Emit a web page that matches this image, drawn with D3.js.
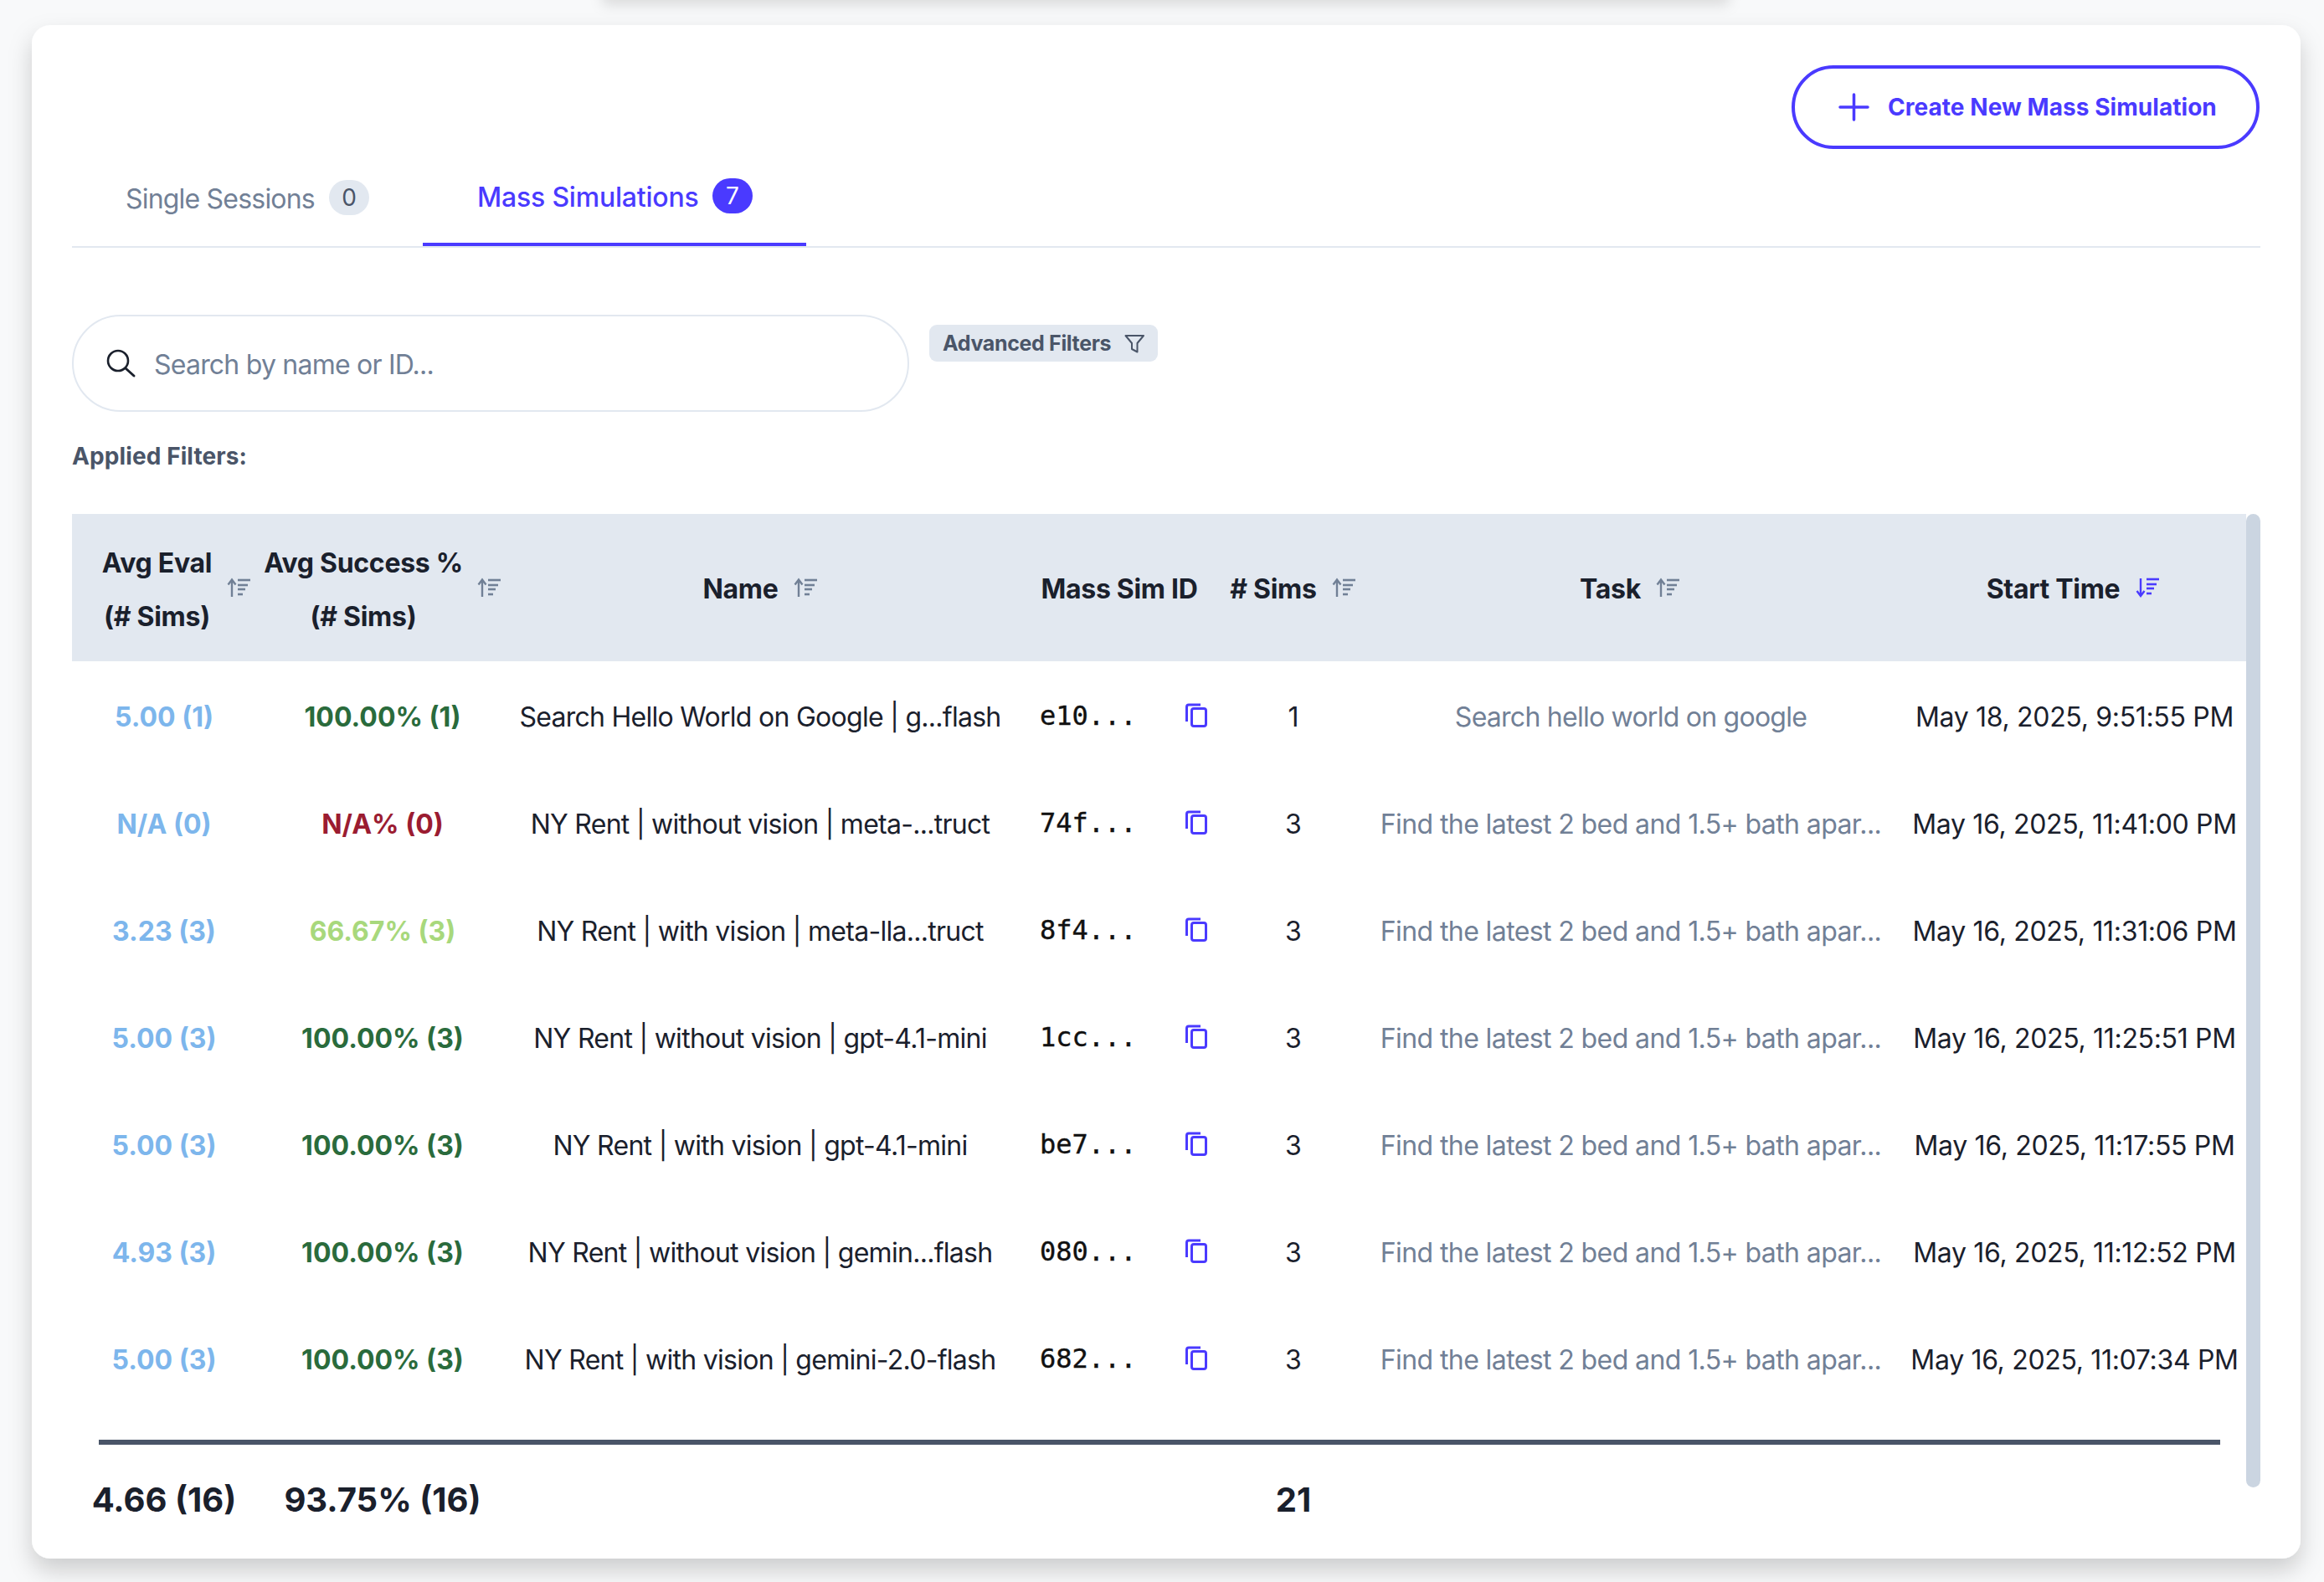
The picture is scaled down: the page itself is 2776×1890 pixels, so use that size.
<!DOCTYPE html>
<html><head><meta charset="utf-8">
<script src="https://cdn.jsdelivr.net/npm/d3@7/dist/d3.min.js"></script>
<style>html,body{margin:0;padding:0;background:#f8f9fa;overflow:hidden}svg{display:block}text{font-family:Inter,sans-serif}</style>
</head><body><div id="chart"></div>
<script>
const rowsIdx = [0,1,2,3,4,5,6];
const avgEval = [5.00,null,3.23,5.00,5.00,4.93,5.00];
const evalSims = [1,0,3,3,3,3,3];
const avgSuccess = [100,null,66.67,100,100,100,100];
const successSims = [1,0,3,3,3,3,3];
const names = ["Search Hello World on Google | g...flash","NY Rent | without vision | meta-...truct","NY Rent | with vision | meta-lla...truct","NY Rent | without vision | gpt-4.1-mini","NY Rent | with vision | gpt-4.1-mini","NY Rent | without vision | gemin...flash","NY Rent | with vision | gemini-2.0-flash"];
const ids = ["e10...","74f...","8f4...","1cc...","be7...","080...","682..."];
const simCounts = [1,3,3,3,3,3,3];
const tasks = ["Search hello world on google","Find the latest 2 bed and 1.5+ bath apar...","Find the latest 2 bed and 1.5+ bath apar...","Find the latest 2 bed and 1.5+ bath apar...","Find the latest 2 bed and 1.5+ bath apar...","Find the latest 2 bed and 1.5+ bath apar...","Find the latest 2 bed and 1.5+ bath apar..."];
const startTimes = ["May 18, 2025, 9:51:55 PM","May 16, 2025, 11:41:00 PM","May 16, 2025, 11:31:06 PM","May 16, 2025, 11:25:51 PM","May 16, 2025, 11:17:55 PM","May 16, 2025, 11:12:52 PM","May 16, 2025, 11:07:34 PM"];
const totals = {evalText:"4.66 (16)", successText:"93.75% (16)", sims:"21"};
const BLUE="#4a3aff", INK="#1a202c", SLATE="#718096", LINE="#e2e8f0";

const svg=d3.select("#chart").append("svg").attr("width",2776).attr("height",1890).attr("viewBox","0 0 2776 1890");
const defs=svg.append("defs");
const f=defs.append("filter").attr("id","sh").attr("x","-5%").attr("y","-5%").attr("width","110%").attr("height","112%");
f.append("feDropShadow").attr("dx",0).attr("dy",14).attr("stdDeviation",14).attr("flood-color","#000").attr("flood-opacity",0.18);
const f2=defs.append("filter").attr("id","sh2").attr("x","-5%").attr("y","-50%").attr("width","110%").attr("height","300%");
f2.append("feDropShadow").attr("dx",0).attr("dy",6).attr("stdDeviation",8).attr("flood-color","#000").attr("flood-opacity",0.12);

svg.append("rect").attr("width",2776).attr("height",1890).attr("fill","#f8f9fa");
svg.append("rect").attr("x",720).attr("y",-60).attr("width",1345).attr("height",60).attr("fill","#fff").attr("filter","url(#sh2)");
svg.append("rect").attr("x",38).attr("y",30).attr("width",2710).attr("height",1832).attr("rx",22).attr("fill","#fff").attr("filter","url(#sh)");

function label(x,y,t,size,weight,fill,anchor="start",ls=0){
  return svg.append("text").attr("x",x).attr("y",y).attr("dy","0.36em").attr("font-size",size).attr("font-weight",weight).attr("fill",fill).attr("text-anchor",anchor).attr("letter-spacing",ls).text(t);
}
// create button
svg.append("rect").attr("x",2142).attr("y",80).attr("width",555).attr("height",96).attr("rx",48).attr("fill","#fff").attr("stroke",BLUE).attr("stroke-width",4);
svg.append("path").attr("d","M2214.5 113V143M2198 128H2231").attr("stroke",BLUE).attr("stroke-width",3.5).attr("stroke-linecap","round").attr("fill","none");
label(2255,128,"Create New Mass Simulation",28,700,BLUE,"start",0.05);
// tabs
label(150,237,"Single Sessions",32,400,SLATE,"start",-0.8);
svg.append("rect").attr("x",393).attr("y",215).attr("width",48).attr("height",42).attr("rx",21).attr("fill",LINE);
label(417,236,"0",28,400,"#4a5568","middle");
label(570,235,"Mass Simulations",32,500,BLUE,"start",-0.2);
svg.append("rect").attr("x",851).attr("y",213).attr("width",48).attr("height",42).attr("rx",21).attr("fill",BLUE);
label(875,234,"7",28,400,"#fff","middle");
svg.append("rect").attr("x",86).attr("y",294).attr("width",2614).attr("height",2).attr("fill",LINE);
svg.append("rect").attr("x",505).attr("y",290).attr("width",458).attr("height",4).attr("fill",BLUE);
// search
svg.append("rect").attr("x",87).attr("y",377).attr("width",998).attr("height",114).attr("rx",57).attr("fill","#fff").attr("stroke",LINE).attr("stroke-width",2);
svg.append("circle").attr("cx",141).attr("cy",431).attr("r",12).attr("fill","none").attr("stroke","#1a202c").attr("stroke-width",2.6);
svg.append("path").attr("d","M150 440L160 449").attr("stroke","#1a202c").attr("stroke-width",3).attr("stroke-linecap","round");
label(184,435,"Search by name or ID...",32,400,SLATE,"start",-0.78);
svg.append("rect").attr("x",1110).attr("y",388).attr("width",273).attr("height",44).attr("rx",9).attr("fill",LINE);
label(1126,410,"Advanced Filters",25,700,"#4a5568","start",-0.35);
svg.append("path").attr("d","M1344.5 401H1366L1358.5 410V420.5L1352 417V410Z").attr("fill","none").attr("stroke","#4a5568").attr("stroke-width",2).attr("stroke-linejoin","round");
label(86,545,"Applied Filters:",28,700,"#4a5568","start",0.1);

// table header
svg.append("rect").attr("x",86).attr("y",614).attr("width",2597).attr("height",176).attr("fill",LINE);
svg.append("rect").attr("x",2683).attr("y",614).attr("width",17).attr("height",1163).attr("rx",8.5).attr("fill","#cbd5e1");

const headerLabels=[
 {lines:["Avg Eval","(# Sims)"],cx:187.5,ic:272},
 {lines:["Avg Success %","(# Sims)"],cx:434,ic:571},
 {lines:["Name"],cx:884.5,ic:949},
 {lines:["Mass Sim ID"],cx:1337,ic:null},
 {lines:["# Sims"],cx:1521,ic:1592},
 {lines:["Task"],cx:1923.5,ic:1979},
 {lines:["Start Time"],cx:2452.5,ic:2552,active:true}];
const hy=d3.scalePoint().domain([0,1]).range([672,736]);
headerLabels.forEach(h=>{
  h.lines.forEach((l,i)=>{
    label(h.cx,h.lines.length>1?hy(i):703,l,32,700,INK,"middle",-0.3);
  });
  if(h.ic!==null){
    const c=h.active?BLUE:"#718096";
    const g=svg.append("g").attr("transform",`translate(${h.ic},${h.active?691:692})`).attr("stroke",c).attr("fill","none");
    if(h.active){
      g.append("path").attr("d","M5 0V20M0.5 15L5 21L9.5 15").attr("stroke-width",2.4);
    } else {
      g.append("path").attr("d","M5 21V1M0.5 6.5L5 0.5L9.5 6.5").attr("stroke-width",2.4);
    }
    [[12,27,1],[12,24,7],[12,21,12],[12,18,18]].forEach(b=>g.append("path").attr("d",`M${b[0]} ${b[2]}H${b[1]}`).attr("stroke-width",2.6));
  }
});

// body
const y=d3.scaleBand().domain(rowsIdx).range([792,792+128*7]);
const cy=i=>y(i)+y.bandwidth()/2;
const colKeys=["eval","success","name","id","copy","sims","task","time"];
const x=d3.scaleOrdinal().domain(colKeys).range([196,457,908,1242,1416,1545,1948,2478]);
const fmtEval=i=>(avgEval[i]===null?"N/A":d3.format(".2f")(avgEval[i]))+` (${evalSims[i]})`;
const fmtSucc=i=>(avgSuccess[i]===null?"N/A":d3.format(".2f")(avgSuccess[i]))+`% (${successSims[i]})`;
const succColor=d3.scaleThreshold().domain([50,90]).range(["#9b1c31","#a8d87c","#2a6b3c"]);
const col=(key,text,fill,weight,ls=0,anchor="middle",fam=null)=>{
  const s=svg.append("g").selectAll("text").data(rowsIdx).join("text")
   .attr("x",x(key)).attr("y",cy).attr("dy","0.36em").attr("font-size",32).attr("font-weight",weight)
   .attr("text-anchor",anchor).attr("letter-spacing",ls).attr("fill",fill).text(text);
  if(fam)s.style("font-family",fam);
  return s;
};
col("eval",fmtEval,"#7db6ec",700,0);
col("success",fmtSucc,i=>avgSuccess[i]===null?"#9b1c31":succColor(avgSuccess[i]),700,0);
col("name",i=>names[i],INK,400,-0.72);
col("id",i=>ids[i],"#111",400,0,"start","'DejaVu Sans Mono',monospace").attr("dy","0.32em").attr("stroke","#111").attr("stroke-width",0.4);
col("sims",i=>simCounts[i],INK,400);
col("task",i=>tasks[i],SLATE,400,i=>i===0?-0.75:-0.6);
col("time",i=>startTimes[i],INK,400,-0.32);
svg.append("g").selectAll("g").data(rowsIdx).join("g")
 .attr("transform",i=>`translate(${x("copy")},${cy(i)})`)
 .each(function(){
   const g=d3.select(this).attr("fill","none").attr("stroke",BLUE).attr("stroke-width",3);
   g.append("rect").attr("x",7.5).attr("y",-9.5).attr("width",17).attr("height",21).attr("rx",2.5);
   g.append("path").attr("d","M1.5 6V-11.5Q1.5 -14 4 -14H18");
 });
// footer
svg.append("rect").attr("x",118).attr("y",1720).attr("width",2534).attr("height",6).attr("fill","#4a5568");
label(196,1792,totals.evalText,40,700,INK,"middle",0);
label(457,1792,totals.successText,40,700,INK,"middle",0);
label(1545,1792,totals.sims,40,700,INK,"middle",0);
</script></body></html>
